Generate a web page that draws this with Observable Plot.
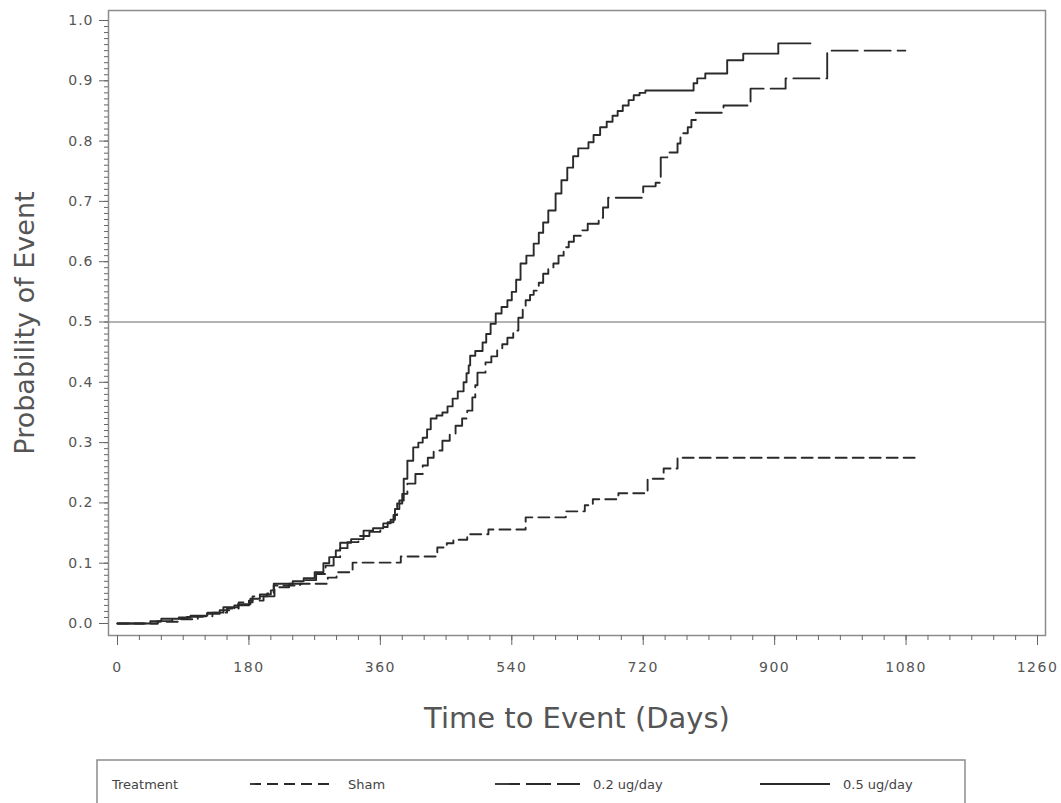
<!DOCTYPE html>
<html><head><meta charset="utf-8">
<script src="https://cdn.jsdelivr.net/npm/d3@7"></script>
<script src="https://cdn.jsdelivr.net/npm/@observablehq/plot@0.6"></script>
<style>
body{margin:0;background:#fff;}
#chart svg,#legend svg{display:block}
</style></head><body>
<div id="chart"></div>
<div id="legend"></div>
<script>
// ---- tick labels ----
const xTicksMajor = [0, 180, 360, 540, 720, 900, 1080, 1260];
const xTicksMinor = d3.range(0, 1261, 30);
const yTicksMajor = [0, 0.1, 0.2, 0.3, 0.4, 0.5, 0.6, 0.7, 0.8, 0.9, 1.0];
const yTicksMinor = d3.range(0, 101).map(i => i / 100);
const refLine = [0.5];

// ---- series ----
const seriesNames = ["Sham", "0.2 ug/day", "0.5 ug/day"];

const shamDays = [0,55,85,110,130,150,166,185,205,214,250,288,300,322,388,438,451,460,479,508,559,614,640,651,686,726,748,767,1100];
const shamProb = [0,0.003,0.007,0.012,0.018,0.025,0.035,0.045,0.05,0.063,0.066,0.076,0.085,0.101,0.111,0.126,0.133,0.139,0.148,0.156,0.176,0.186,0.196,0.206,0.216,0.24,0.257,0.275,0.275];

const lowDays = [0,55,75,95,118,140,160,180,200,215,235,255,272,285,296,305,315,330,345,360,370,378,383,390,397,408,418,425,433,445,455,463,472,479,486,490,493,504,512,520,527,534,542,549,555,559,565,570,577,583,590,597,604,611,618,625,635,644,659,665,672,720,737,744,753,767,771,781,786,792,830,867,915,972,1079];
const lowProb = [0,0.004,0.008,0.011,0.016,0.022,0.03,0.038,0.045,0.06,0.066,0.072,0.082,0.096,0.11,0.125,0.135,0.145,0.152,0.16,0.168,0.18,0.199,0.215,0.232,0.248,0.262,0.275,0.287,0.303,0.315,0.328,0.34,0.353,0.375,0.395,0.416,0.433,0.443,0.453,0.463,0.474,0.486,0.507,0.525,0.536,0.545,0.552,0.565,0.58,0.588,0.597,0.61,0.624,0.633,0.643,0.652,0.663,0.673,0.69,0.706,0.725,0.731,0.773,0.781,0.796,0.813,0.823,0.835,0.847,0.859,0.887,0.904,0.95,0.95];

const highDays = [0,45,60,84,100,123,145,165,182,195,210,214,240,255,270,282,290,299,305,320,337,350,364,374,380,386,392,397,405,412,418,424,429,437,445,452,459,466,474,478,481,483,490,500,505,511,518,526,534,540,546,552,560,570,577,583,590,600,608,616,624,631,645,652,661,670,678,685,692,700,707,715,723,789,794,805,835,857,905,949];
const highProb = [0,0.004,0.008,0.01,0.013,0.018,0.027,0.032,0.041,0.048,0.055,0.066,0.07,0.075,0.085,0.1,0.11,0.121,0.134,0.14,0.154,0.158,0.166,0.172,0.19,0.204,0.24,0.27,0.292,0.3,0.308,0.322,0.34,0.345,0.35,0.36,0.373,0.385,0.4,0.415,0.428,0.444,0.452,0.466,0.48,0.497,0.514,0.525,0.536,0.55,0.57,0.597,0.61,0.63,0.648,0.665,0.685,0.713,0.735,0.756,0.775,0.788,0.798,0.81,0.823,0.832,0.842,0.85,0.859,0.868,0.876,0.88,0.884,0.896,0.904,0.912,0.934,0.945,0.962,0.962];

const seriesDays = [shamDays, lowDays, highDays];
const seriesProb = [shamProb, lowProb, highProb];
const seriesDash = ["11,6", "26,7", null];
const legendDash = ["11,6", "25,6", null];

const table = [];
seriesNames.forEach((name, i) => {
  seriesDays[i].forEach((d, j) => table.push({series: name, day: d, p: seriesProb[i][j]}));
});

const lineColor = "#2a2a2a";
const textColor = "#555";

const lineMarks = seriesNames.map((name, i) =>
  Plot.line(table.filter(r => r.series === name), {
    x: "day", y: "p", curve: "step-after",
    stroke: lineColor, strokeWidth: 1.9,
    strokeDasharray: seriesDash[i] || undefined
  })
);

const plot = Plot.plot({
  width: 1061, height: 755,
  marginLeft: 108, marginRight: 16, marginTop: 10, marginBottom: 120,
  x: {domain: [0, 1260], range: [117, 1037]},
  y: {domain: [0, 1], range: [623, 20]},
  style: {fontFamily: "DejaVu Sans, sans-serif", fontSize: "14px", color: textColor, background: "#fff"},
  marks: [
    Plot.ruleY(refLine, {stroke: "#9a9a9a", strokeWidth: 1.5}),
    Plot.frame({stroke: "#8c8c8c", strokeWidth: 1.5}),
    Plot.axisX({ticks: xTicksMinor, tickSize: 5, tickFormat: () => "", label: null, stroke: "#666"}),
    Plot.axisX({ticks: xTicksMajor, tickSize: 10, tickPadding: 17, tickFormat: d => String(d), label: null, stroke: "#666", fill: textColor}),
    Plot.axisY({ticks: yTicksMinor, tickSize: 4, tickFormat: () => "", label: null, stroke: "#666"}),
    Plot.axisY({ticks: yTicksMajor, tickSize: 9, tickPadding: 6, tickFormat: d3.format(".1f"), label: null, stroke: "#666", fill: textColor}),
    ...lineMarks,
    Plot.text(["Time to Event (Days)"], {frameAnchor: "bottom", textAnchor: "middle", dy: 92, fontSize: 29, fill: "#555", fontFamily: "DejaVu Sans, sans-serif"}),
    Plot.text(["Probability of Event"], {frameAnchor: "left", textAnchor: "middle", dx: -83, rotate: -90, fontSize: 27, fill: "#555", fontFamily: "DejaVu Sans, sans-serif"})
  ]
});
document.getElementById("chart").appendChild(plot);
d3.select(plot).selectAll('g[aria-label="x-axis tick label"] text').attr("letter-spacing", "1.5");
d3.select(plot).selectAll('g[aria-label="y-axis tick label"] text').attr("letter-spacing", "1");

// ---- legend ----
const lg = d3.select("#legend").append("svg").attr("width", 1061).attr("height", 48)
  .style("font-family", "DejaVu Sans, sans-serif");
lg.append("rect").attr("x", 97).attr("y", 5).attr("width", 868).attr("height", 70)
  .attr("fill", "none").attr("stroke", "#8c8c8c").attr("stroke-width", 1.5);
lg.append("text").attr("x", 112).attr("y", 34).attr("font-size", 13).attr("fill", "#444").text("Treatment");
const legX = [250, 495, 760];
const legLen = [85, 85, 70];
seriesNames.forEach((name, i) => {
  lg.append("line").attr("x1", legX[i]).attr("x2", legX[i] + legLen[i]).attr("y1", 29).attr("y2", 29)
    .attr("stroke", lineColor).attr("stroke-width", 1.8)
    .attr("stroke-dasharray", legendDash[i]);
  lg.append("text").attr("x", legX[i] + legLen[i] + 13).attr("y", 34).attr("font-size", 13).attr("fill", "#444").text(name);
});
</script>
</body></html>
